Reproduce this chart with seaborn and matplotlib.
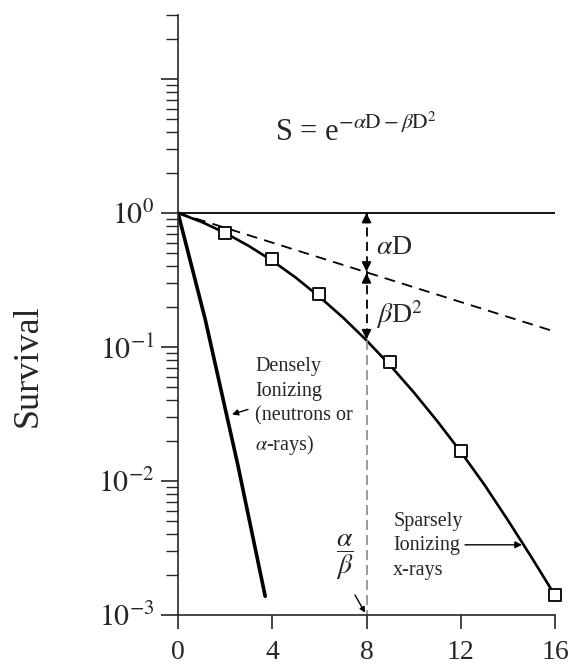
import matplotlib
matplotlib.use("Agg")
import matplotlib.pyplot as plt
import seaborn as sns
from matplotlib.ticker import NullFormatter

sns.set_style("ticks")
plt.rcParams.update({
    "font.family": ["Liberation Serif", "DejaVu Serif"],
    "mathtext.fontset": "stix",
    "axes.linewidth": 1.2,
})

# sparsely ionizing (x-rays): measured points and drawn curve
dose_pts = [2, 4, 6, 9, 12, 16]
surv_pts = [0.71, 0.45, 0.25, 0.077, 0.0167, 0.0014]
dose_curve = [0, 1, 2, 3, 4, 5, 6, 7, 8, 9, 10, 11, 12, 13, 14, 15, 16]
surv_curve = [1.0, 0.857, 0.71, 0.568, 0.44, 0.329, 0.237, 0.166, 0.112,
              0.073, 0.046, 0.028, 0.0165, 0.0094, 0.0051, 0.0027, 0.0014]
# linear (alpha) component, dashed
dose_lin = [0, 16]
surv_lin = [1.0, 0.13]
# densely ionizing (neutrons / alpha-rays)
dose_dense = [0, 1.15, 2.55, 3.7]
surv_dense = [1.0, 0.162, 0.0129, 0.00138]

x_ticks = [0, 4, 8, 12, 16]
y_ticks = [1e-3, 1e-2, 1e-1, 1, 10]
y_labels = [r"$10^{-3}$", r"$10^{-2}$", r"$10^{-1}$", r"$10^{0}$", ""]

fig = plt.figure(figsize=(5.7, 6.64), dpi=100)
ax = fig.add_axes([0.3123, 0.0738, 0.6614, 0.9036])

sns.lineplot(x=dose_curve, y=surv_curve, color="black", lw=1.9, ax=ax)
sns.lineplot(x=dose_lin, y=surv_lin, color="black", lw=1.3, ax=ax,
             linestyle=(0, (6, 4)))
sns.lineplot(x=dose_dense, y=surv_dense, color="black", lw=2.6, ax=ax)
sns.scatterplot(x=dose_pts, y=surv_pts, marker="s", s=80, color="white",
                edgecolor="black", linewidth=1.3, zorder=4, clip_on=False, ax=ax)

ax.axhline(1, color="black", lw=1.3, zorder=1)

ax.set_yscale("log")
ax.set_xlim(0, 16)
ax.set_ylim(1e-3, 30)
ax.set_xticks(x_ticks)
ax.set_xticklabels([str(t) for t in x_ticks])
ax.set_yticks(y_ticks)
ax.set_yticklabels(y_labels)
ax.yaxis.set_minor_formatter(NullFormatter())
ax.tick_params(axis="y", which="major", direction="out", length=12, width=1.2,
               labelsize=21.5, pad=5)
ax.tick_params(axis="y", which="minor", direction="out", length=9, width=1.0)
ax.tick_params(axis="x", direction="out", length=10, width=1.2, labelsize=20, pad=8)
sns.despine(ax=ax)

ax.set_ylabel("Survival", fontsize=26)
ax.yaxis.set_label_coords(-0.355, 0.415)

# vertical construction at D = 8
ax.plot([8, 8], [1, 0.112], color="black", lw=1.3, linestyle=(0, (5, 3)))
ax.plot([8, 8], [0.112, 1e-3], color="#8a8a8a", lw=1.2, linestyle=(0, (6, 3)))
head = dict(arrowstyle="-|>", color="black", lw=1.2, mutation_scale=14,
            shrinkA=0, shrinkB=0)
ax.annotate("", xy=(8, 1), xytext=(8, 0.85), arrowprops=head)
ax.annotate("", xy=(8, 0.365), xytext=(8, 0.43), arrowprops=head)
ax.annotate("", xy=(8, 0.355), xytext=(8, 0.30), arrowprops=head)
ax.annotate("", xy=(8, 0.114), xytext=(8, 0.135), arrowprops=head)

ax.text(4.12, 3.46, r"S = e$^{-\alpha\mathrm{D}-\beta\mathrm{D}^2}$", fontsize=22,
        ha="left", va="baseline")
ax.text(8.4, 0.493, r"$\alpha$D", fontsize=20, ha="left", va="baseline")
ax.text(8.4, 0.15, r"$\beta$D$^2$", fontsize=20, ha="left", va="baseline")

ax.text(3.27, 0.0836, "Densely\nIonizing\n(neutrons or\n" + r"$\alpha$-rays)",
        fontsize=14.5, ha="left", va="top", linespacing=1.4)
ax.annotate("", xy=(2.29, 0.0314), xytext=(2.97, 0.0342),
            arrowprops=dict(arrowstyle="-|>", color="black", lw=1.0,
                            mutation_scale=9, shrinkA=0, shrinkB=0))

ax.text(9.13, 0.0059, "Sparsely\nIonizing\nx-rays", fontsize=14.5,
        ha="left", va="top", linespacing=1.4)
ax.annotate("", xy=(14.6, 0.00334), xytext=(12.18, 0.00334),
            arrowprops=dict(arrowstyle="-|>", color="black", lw=1.0,
                            mutation_scale=10, shrinkA=0, shrinkB=0))

ax.text(7.09, 0.00272, r"$\dfrac{\alpha}{\beta}$", fontsize=20, ha="center", va="center")
ax.annotate("", xy=(7.94, 0.00104), xytext=(7.51, 0.00141),
            arrowprops=dict(arrowstyle="-|>", color="black", lw=1.0,
                            mutation_scale=8, shrinkA=0, shrinkB=0),
            annotation_clip=False)

fig.savefig("out.png", dpi=100)
